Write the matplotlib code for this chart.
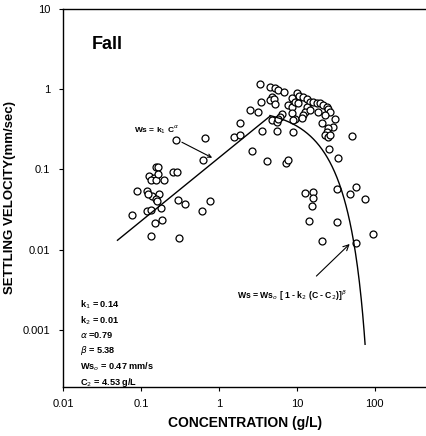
import numpy as np
import matplotlib
matplotlib.use('Agg')
import matplotlib.pyplot as plt

plt.rcParams['font.family'] = ['Liberation Sans', 'DejaVu Sans']

# measured concentration (g/L) and settling velocity (mm/sec)
conc = [0.284, 0.67, 0.63, 0.157, 0.167, 0.26, 0.29, 0.128, 0.148, 0.135,
        0.157, 0.167, 0.199, 0.0896, 0.120, 0.140, 0.123, 0.172, 0.157, 0.162,
        0.301, 0.371, 0.077, 0.120, 0.135, 0.182, 0.152, 0.188, 0.135, 0.31,
        0.614, 0.78,
        1.89, 1.54, 1.89, 2.62, 4.2, 7.2, 7.6, 2.47, 3.13, 3.32,
        4.46, 5.18, 5.65, 6.76, 9.94, 4.73, 4.46, 5.02, 3.42, 5.18,
        7.6, 8.55, 6.37, 6.0, 8.55, 4.73, 5.5, 5.65, 9.35, 3.52,
        5.5, 8.8,
        10.8, 11.9, 13.3, 14.6, 16.0, 18.0, 19.6, 21.5, 24.2, 24.9,
        26.4, 8.55, 9.35, 10.2, 13.3, 12.6, 11.9, 11.5, 14.6, 18.5,
        22.7, 8.8, 20.8, 30.6, 28.8, 24.9, 24.2, 22.7, 24.9, 26.4,
        50.6, 25.6, 33.4, 12.6, 16.0, 16.0, 15.5, 32.4, 47.6, 57,
        74.3, 14.2, 32.4, 20.8, 57, 94]
ws = [0.230, 0.244, 0.130, 0.106, 0.106, 0.0918, 0.0918, 0.084, 0.0794, 0.075,
      0.075, 0.089, 0.073, 0.0546, 0.0546, 0.0473, 0.049, 0.050, 0.0434, 0.041,
      0.042, 0.0376, 0.0274, 0.0307, 0.0316, 0.0335, 0.0218, 0.0237, 0.0150, 0.0141,
      0.0307, 0.041,
      0.376, 0.251, 0.266, 0.168, 0.126, 0.119, 0.133, 0.546, 0.516, 1.155,
      1.06, 1.03, 0.97, 0.917, 0.89, 0.794, 0.729, 0.75, 0.688, 0.65,
      0.63, 0.596, 0.487, 0.447, 0.50, 0.41, 0.387, 0.42, 0.42, 0.299,
      0.299, 0.29,
      0.818, 0.794, 0.75, 0.688, 0.688, 0.668, 0.668, 0.631, 0.596, 0.562,
      0.516, 0.772, 0.688, 0.668, 0.596, 0.516, 0.473, 0.434, 0.546, 0.516,
      0.473, 0.41, 0.376, 0.42, 0.335, 0.325, 0.29, 0.266, 0.251, 0.266,
      0.259, 0.178, 0.141, 0.0516, 0.053, 0.0447, 0.0355, 0.0579, 0.050, 0.0613,
      0.0434, 0.023, 0.0224, 0.013, 0.0122, 0.0158]

# fitted parameters
k1 = 0.14
k2 = 0.01
alpha = 0.79
beta = 5.38
ws0 = 0.47
c2 = 4.53


def main():
    fig = plt.figure(figsize=(4.27, 4.36), dpi=100)
    ax = fig.add_axes([0.1475, 0.1124, 0.8525, 0.867])

    ax.plot(conc, ws, 'o', mfc='white', mec='black', ms=5, mew=0.9)

    # flocculation branch and hindered settling branch
    c_a = np.logspace(np.log10(0.05), np.log10(c2), 50)
    ax.plot(c_a, k1 * c_a ** alpha, 'k-', lw=1)
    c_b = np.logspace(np.log10(c2), np.log10(75), 200)
    ax.plot(c_b, ws0 * (1 - k2 * (c_b - c2)) ** beta, 'k-', lw=1)

    ax.set_xscale('log')
    ax.set_yscale('log')
    ax.set_xlim(0.01, 467)
    ax.set_ylim(0.000195, 10)
    ax.set_xticks([0.01, 0.1, 1, 10, 100])
    ax.set_xticklabels(['0.01', '0.1', '1', '10', '100'])
    ax.set_yticks([0.001, 0.01, 0.1, 1, 10])
    ax.set_yticklabels(['0.001', '0.01', '0.1', '1', '10'])
    ax.minorticks_off()
    ax.tick_params(length=3, width=0.8, labelsize=8, pad=6)
    ax.spines['right'].set_visible(False)
    for s in ['left', 'top', 'bottom']:
        ax.spines[s].set_linewidth(1)

    ax.set_xlabel('CONCENTRATION (g/L)', fontsize=10, fontweight='bold', labelpad=5)
    ax.set_ylabel('SETTLING VELOCITY(mm/sec)', fontsize=9.5, fontweight='bold', labelpad=5)

    ax.text(0.08, 0.907, 'Fall', transform=ax.transAxes, fontsize=13,
            fontweight='bold', va='center')

    ax.annotate(r'Ws = k$_1$ C$^{\alpha}$', xy=(0.82, 0.14), xytext=(0.16, 0.316),
                fontsize=6, fontweight='bold', ha='center', va='center',
                arrowprops=dict(arrowstyle='->', lw=0.8, color='black',
                                shrinkA=6, shrinkB=0))
    ax.annotate('', xy=(47.6, 0.0118), xytext=(17.8, 0.0047),
                arrowprops=dict(arrowstyle='->', lw=0.8, color='black',
                                shrinkA=0, shrinkB=0))
    ax.text(8.55, 0.00266, r'Ws = Ws$_o$ [ 1 - k$_2$ (C - C$_2$)]$^{\beta}$',
            fontsize=6.2, fontweight='bold', ha='center', va='center')

    params = ('k$_1$ = %.2f\nk$_2$ = %.2f\n$\\alpha$ =%.2f\n$\\beta$ = %.2f\n'
              'Ws$_o$ = %.2f mm/s\nC$_2$ = %.2f g/L') % (k1, k2, alpha, beta, ws0, c2)
    ax.text(0.048, 0.235, params, transform=ax.transAxes, fontsize=6.6,
            fontweight='bold', va='top', linespacing=1.4)

    fig.savefig('out.png', dpi=100)


if __name__ == '__main__':
    main()
